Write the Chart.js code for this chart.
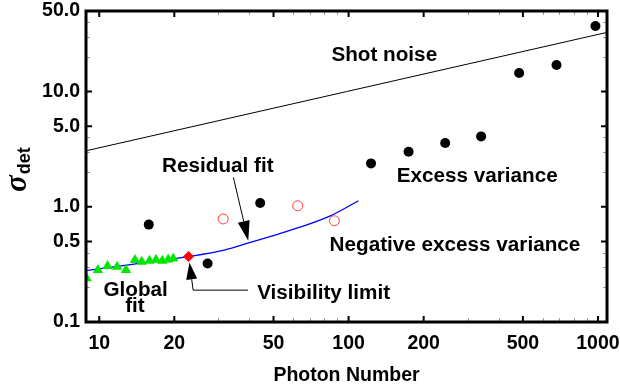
<!DOCTYPE html>
<html>
<head>
<meta charset="utf-8">
<script src="https://cdn.jsdelivr.net/npm/chart.js@4.4.1/dist/chart.umd.min.js"></script>
<style>
  html, body { margin: 0; padding: 0; background: #fff; }
</style>
</head>
<body>
<canvas id="chart" width="620" height="392"></canvas>
<script>
// Excess variance points (black dots)
const excessX = [15.8, 27.2, 44.2, 123, 174, 244, 340, 483, 682, 977];
const excessY = [0.70, 0.322, 1.08, 2.38, 3.0, 3.57, 4.08, 14.5, 17.0, 37.0];

// Negative excess variance (red open circles)
const negX = [31.4, 62.5, 87.7];
const negY = [0.784, 1.02, 0.756];

// Global fit (green triangles)
const globalX = [8.9, 9.88, 10.8, 11.8, 12.8, 13.9, 14.8, 15.9, 16.9, 17.9, 18.9, 19.8];
const globalY = [0.240, 0.282, 0.306, 0.301, 0.282, 0.345, 0.333, 0.340, 0.347, 0.340, 0.349, 0.356];

// Visibility limit (red diamond)
const visX = [22.8];
const visY = [0.370];

// Residual fit curve (blue)
const fitX = [8.85, 13.8, 22.8, 31.7, 40.3, 56.6, 84.5, 109.6];
const fitY = [0.279, 0.318, 0.370, 0.421, 0.490, 0.611, 0.835, 1.127];

// Shot noise line
const shotX = [8.85, 1087];
const shotY = [3.06, 32.6];

// Axis ticks
const xTickVals = [10, 20, 50, 100, 200, 500, 1000];
const xTickLabels = ['10', '20', '50', '100', '200', '500', '1000'];
const xMinor = [30, 40, 60, 70, 80, 90, 300, 400, 600, 700, 800, 900];
const yTickVals = [0.1, 0.5, 1, 5, 10, 50];
const yTickLabels = ['0.1', '0.5', '1.0', '5.0', '10.0', '50.0'];
const yMinor = [0.2, 0.3, 0.4, 2, 3, 4, 20, 30, 40];

// Text notes (placed in data coordinates, centred, on baseline)
const noteText = ['Shot noise', 'Excess variance', 'Residual fit', 'Negative excess variance', 'Visibility limit', 'Global', 'fit'];
const noteX = [139, 328, 29.9, 267, 79.4, 14.0, 13.9];
const noteY = [18.5, 1.63, 1.99, 0.415, 0.159, 0.169, 0.121];

// Arrows (polylines in data coordinates, head at the last point)
const residualArrow = [[34.5, 1.80], [39.6, 0.507]];
const visibilityArrow = [[39.5, 0.189], [23.8, 0.189], [23.0, 0.329]];

const FONT = '"Liberation Sans", Arial, Helvetica, sans-serif';

function pts(xs, ys) {
  return xs.map((x, i) => ({ x: x, y: ys[i] }));
}

// no extra room for edge labels, layout padding decides the plot box
function noPad(s) {
  s.paddingLeft = 0;
  s.paddingRight = 0;
  s.paddingTop = 0;
  s.paddingBottom = 0;
}

function drawArrow(ctx, chart, path, headLen, headHalf) {
  const xs = chart.scales.x, ys = chart.scales.y;
  const p = path.map(d => [xs.getPixelForValue(d[0]), ys.getPixelForValue(d[1])]);
  const tip = p[p.length - 1];
  const prev = p[p.length - 2];
  const ang = Math.atan2(tip[1] - prev[1], tip[0] - prev[0]);
  const bx = tip[0] - Math.cos(ang) * headLen;
  const by = tip[1] - Math.sin(ang) * headLen;
  ctx.beginPath();
  ctx.moveTo(p[0][0], p[0][1]);
  for (let i = 1; i < p.length - 1; i++) ctx.lineTo(p[i][0], p[i][1]);
  ctx.lineTo(bx, by);
  ctx.stroke();
  ctx.beginPath();
  ctx.moveTo(tip[0], tip[1]);
  ctx.lineTo(bx + Math.sin(ang) * headHalf, by - Math.cos(ang) * headHalf);
  ctx.lineTo(bx - Math.sin(ang) * headHalf, by + Math.cos(ang) * headHalf);
  ctx.closePath();
  ctx.fill();
}

const framePlugin = {
  id: 'frame',
  afterDraw(chart) {
    const ctx = chart.ctx;
    const { left, right, top, bottom } = chart.chartArea;
    const xs = chart.scales.x, ys = chart.scales.y;
    ctx.save();

    // minor ticks
    ctx.strokeStyle = '#9a9a9a';
    ctx.lineWidth = 1;
    ctx.beginPath();
    xMinor.forEach(v => {
      const px = Math.round(xs.getPixelForValue(v)) + 0.5;
      ctx.moveTo(px, bottom); ctx.lineTo(px, bottom - 4);
      ctx.moveTo(px, top); ctx.lineTo(px, top + 4);
    });
    yMinor.forEach(v => {
      const py = Math.round(ys.getPixelForValue(v)) + 0.5;
      ctx.moveTo(left, py); ctx.lineTo(left + 4, py);
      ctx.moveTo(right, py); ctx.lineTo(right - 4, py);
    });
    ctx.stroke();

    // major ticks
    ctx.strokeStyle = '#000';
    ctx.lineWidth = 2;
    ctx.beginPath();
    xTickVals.forEach(v => {
      const px = xs.getPixelForValue(v);
      ctx.moveTo(px, bottom); ctx.lineTo(px, bottom - 6);
      ctx.moveTo(px, top); ctx.lineTo(px, top + 6);
    });
    yTickVals.forEach(v => {
      const py = ys.getPixelForValue(v);
      ctx.moveTo(left, py); ctx.lineTo(left + 6, py);
      ctx.moveTo(right, py); ctx.lineTo(right - 6, py);
    });
    ctx.stroke();

    // frame
    ctx.lineWidth = 3;
    ctx.strokeRect(left, top, right - left, bottom - top);

    // notes
    ctx.fillStyle = '#000';
    ctx.font = 'bold 20.7px ' + FONT;
    ctx.textAlign = 'center';
    ctx.textBaseline = 'alphabetic';
    noteText.forEach((t, i) => {
      ctx.fillText(t, xs.getPixelForValue(noteX[i]), ys.getPixelForValue(noteY[i]));
    });

    // arrows
    ctx.strokeStyle = '#000';
    ctx.fillStyle = '#000';
    ctx.lineWidth = 1;
    drawArrow(ctx, chart, residualArrow, 20, 6);
    drawArrow(ctx, chart, visibilityArrow, 17, 5.5);

    // y axis title: sigma with subscript det
    ctx.translate(26, 192);
    ctx.rotate(-Math.PI / 2);
    ctx.textAlign = 'left';
    ctx.font = 'italic bold 31px "Liberation Serif", "DejaVu Serif", serif';
    ctx.fillText('\u03c3', 0, 0);
    const w = ctx.measureText('\u03c3').width;
    ctx.font = 'bold 18px ' + FONT;
    ctx.fillText('det', w + 1, 3.5);

    ctx.restore();
  }
};

new Chart(document.getElementById('chart').getContext('2d'), {
  type: 'scatter',
  data: {
    datasets: [
      {
        label: 'Excess variance',
        data: pts(excessX, excessY),
        pointStyle: 'circle',
        pointRadius: 5,
        backgroundColor: '#000',
        borderColor: '#000',
        borderWidth: 0
      },
      {
        label: 'Negative excess variance',
        data: pts(negX, negY),
        pointStyle: 'circle',
        pointRadius: 5,
        backgroundColor: 'rgba(0,0,0,0)',
        borderColor: '#ff3b3b',
        borderWidth: 1
      },
      {
        label: 'Visibility limit',
        data: pts(visX, visY),
        pointStyle: 'rectRot',
        pointRadius: 5.5,
        backgroundColor: '#ff0000',
        borderColor: '#ff0000',
        borderWidth: 0
      },
      {
        label: 'Global fit',
        data: pts(globalX, globalY),
        pointStyle: 'triangle',
        pointRadius: 6,
        backgroundColor: '#00e600',
        borderColor: '#00e600',
        borderWidth: 0
      },
      {
        label: 'Residual fit',
        data: pts(fitX, fitY),
        showLine: true,
        borderColor: '#0000ff',
        borderWidth: 1.3,
        pointRadius: 0,
        cubicInterpolationMode: 'monotone'
      },
      {
        label: 'Shot noise',
        data: pts(shotX, shotY),
        showLine: true,
        borderColor: '#000',
        borderWidth: 1,
        pointRadius: 0
      }
    ]
  },
  options: {
    responsive: false,
    animation: false,
    layout: { padding: { top: 11, right: 13, left: 0, bottom: 0 } },
    plugins: {
      legend: { display: false },
      tooltip: { enabled: false }
    },
    scales: {
      x: {
        type: 'logarithmic',
        position: 'bottom',
        min: 8.85,
        max: 1087,
        grid: { display: false, drawTicks: false },
        border: { display: false },
        afterBuildTicks: s => { s.ticks = xTickVals.map(v => ({ value: v })); },
        afterFit: s => { s.height = 70; noPad(s); },
        ticks: {
          callback: (v, i) => xTickLabels[i],
          font: { family: FONT, size: 19.5, weight: 'bold' },
          color: '#000',
          padding: 10,
          maxRotation: 0,
          autoSkip: false
        },
        title: {
          display: true,
          text: 'Photon Number',
          font: { family: FONT, size: 19.5, weight: 'bold' },
          color: '#000',
          padding: { top: 0, bottom: 5 }
        }
      },
      y: {
        type: 'logarithmic',
        position: 'left',
        min: 0.1,
        max: 50,
        grid: { display: false, drawTicks: false },
        border: { display: false },
        afterBuildTicks: s => { s.ticks = yTickVals.map(v => ({ value: v })); },
        afterFit: s => { s.width = 86; noPad(s); },
        ticks: {
          callback: (v, i) => yTickLabels[i],
          font: { family: FONT, size: 19.5, weight: 'bold' },
          color: '#000',
          padding: 6,
          autoSkip: false
        }
      }
    }
  },
  plugins: [framePlugin]
});
</script>
</body>
</html>
